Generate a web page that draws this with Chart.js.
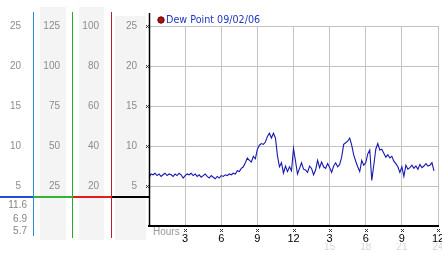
<!DOCTYPE html>
<html><head><meta charset="utf-8">
<script src="https://cdn.jsdelivr.net/npm/chart.js@4"></script>
<style>html,body{margin:0;padding:0;background:#fff;}canvas{display:block;}</style>
</head><body>
<canvas id="c" width="442" height="253"></canvas>
<script>
const seriesLabel = 'Dew Point 09/02/06';
// dew point readings every 10 minutes from 00:00
const dewPoint = [
6.0,6.5,6.4,6.6,6.3,6.5,6.2,6.4,6.6,6.3,
6.5,6.4,6.2,6.5,6.3,6.6,6.4,6.0,6.3,6.5,
6.4,6.6,6.3,6.5,6.2,6.4,6.1,6.3,6.5,6.2,
6.0,6.3,6.1,5.9,6.2,6.0,6.3,6.2,6.4,6.3,
6.5,6.4,6.6,6.5,6.9,6.8,7.2,7.4,7.9,8.5,
8.2,8.0,8.7,8.4,9.6,10.1,10.3,10.2,10.5,11.2,
11.6,11.0,11.6,11.0,8.8,7.4,7.9,6.6,7.5,6.8,
7.4,6.9,9.7,8.1,6.5,7.2,7.9,7.1,7.0,6.7,
7.5,7.2,6.4,7.0,8.2,7.3,8.0,7.4,7.2,7.8,
7.3,6.7,7.5,7.9,7.4,7.7,8.6,10.2,10.4,10.6,
11.0,10.1,8.9,8.1,7.4,6.8,8.2,7.6,7.9,9.0,
9.5,5.7,7.6,9.6,10.3,9.5,9.6,9.1,8.6,8.9,
8.5,8.7,8.1,7.8,7.4,6.7,7.4,6.2,7.6,7.1,
7.3,7.6,7.2,7.5,7.1,7.7,7.3,7.5,7.8,7.5,
7.6,7.9,6.9
];
const tickHours = [3, 6, 9, 12, 15, 18, 21, 24];
const tickLabels = ['3', '6', '9', '12', '3', '6', '9', '12'];
const tickLabels24 = ['', '', '', '', '15', '18', '21', '24'];
const summaryLabels = ['11.6', '6.9', '5.7'];
const axisTitle = 'Hours';

// time categories, 10 minute steps over 24 hours
const times = [];
for (let m = 0; m <= 1440; m += 10) {
  times.push(String(Math.floor(m / 60)).padStart(2, '0') + ':' + String(m % 60).padStart(2, '0'));
}
function tickIndex(v) { return tickHours.indexOf(v / 6); }

const FONT = 'Liberation Sans';
const gridCol = '#c4c4c4';
const clear = 'rgba(0,0,0,0)';

function sideAxis(weight, max, step, width) {
  return {
    position: 'left', weight: weight, min: 0, max: max,
    grid: { display: false, drawTicks: false },
    border: { display: false },
    ticks: { stepSize: step, padding: 12, color: '#8c8c8c', font: { family: FONT, size: 10 },
      callback: v => v === 0 ? '' : v },
    afterFit: s => { s.width = width; s.paddingTop = 0; s.paddingBottom = 0; }
  };
}

function marker(ctx, x, y) {
  ctx.fillStyle = '#333';
  ctx.fillRect(x - 1, y - 1, 1, 1); ctx.fillRect(x + 1, y - 1, 1, 1);
  ctx.fillRect(x, y, 1, 1);
  ctx.fillRect(x - 1, y + 1, 1, 1); ctx.fillRect(x + 1, y + 1, 1, 1);
}

const decor = {
  id: 'decor',
  beforeDraw(chart) {
    const c = chart.ctx, s = chart.scales;
    c.save();
    c.fillStyle = '#f4f4f4';
    c.fillRect(s.y2.left + 7, 7, (s.y2.right - 6) - (s.y2.left + 7), 233);
    c.fillRect(s.y3.left + 7, 7, (s.y3.right - 7) - (s.y3.left + 7), 233);
    c.fillRect(s.y.left + 4, 16, (s.y.right - 3) - (s.y.left + 4), 224);
    c.restore();
  },
  afterDraw(chart) {
    const c = chart.ctx, s = chart.scales, a = chart.chartArea;
    c.save();
    const vline = (x, y0, y1, col, w) => {
      c.strokeStyle = col; c.lineWidth = w; c.beginPath();
      c.moveTo(Math.round(x) + 0.5, y0); c.lineTo(Math.round(x) + 0.5, y1); c.stroke();
    };
    vline(s.y1.right, 12, 236, '#2a8fd0', 1);
    vline(s.y2.right, 12, 238, '#2aa82a', 1);
    vline(s.y3.right, 12, 238, '#b8202c', 1);
    vline(s.y.right, 13, a.bottom, '#000', 1.5);
    // horizontal divider
    const hy = 196;
    c.fillStyle = '#1f4fd6'; c.fillRect(0, hy, s.y1.right, 2);
    c.fillStyle = '#2fb52f'; c.fillRect(s.y1.right + 1, hy, s.y2.right - s.y1.right, 2);
    c.fillStyle = '#e41c1c'; c.fillRect(s.y2.right + 1, hy, s.y3.right - s.y2.right, 2);
    c.fillStyle = '#000'; c.fillRect(s.y3.right + 1, hy, s.y.right - s.y3.right, 2);
    // summary values
    c.fillStyle = '#858585'; c.font = '10px "' + FONT + '"';
    c.textAlign = 'right'; c.textBaseline = 'middle';
    const sy = [205, 219, 231.5];
    summaryLabels.forEach((t, i) => c.fillText(t, 27, sy[i]));
    // axis markers
    s.y.ticks.forEach(t => { if (t.value > 0) marker(c, Math.round(s.y.right) - 2, Math.round(s.y.getPixelForValue(t.value))); });
    s.x.ticks.forEach(t => { if (t.value > 0) marker(c, Math.round(s.x.getPixelForValue(t.value)), 230); });
    // Hours
    c.fillStyle = '#9a9a9a'; c.textAlign = 'left'; c.font = '10px "' + FONT + '"';
    c.fillText(axisTitle, a.left + 4, 232.5);
    // legend
    const lx = a.left + 12, ly = 20;
    c.beginPath(); c.arc(lx, ly, 3.2, 0, Math.PI * 2);
    c.fillStyle = '#b01010'; c.fill(); c.strokeStyle = '#5a0000'; c.lineWidth = 1; c.stroke();
    c.fillStyle = '#1f36c0'; c.font = '9.6px "DejaVu Sans"'; c.textAlign = 'left';
    c.fillText(chart.data.datasets[0].label, lx + 5, ly + 0.5);
    c.restore();
  }
};

new Chart(document.getElementById('c'), {
  type: 'line',
  data: {
    labels: times,
    datasets: [{
      label: seriesLabel, data: dewPoint, xAxisID: 'x', yAxisID: 'y',
      borderColor: '#1818b0', borderWidth: 1.1, pointRadius: 0, tension: 0, fill: false
    }]
  },
  options: {
    responsive: false, animation: false, devicePixelRatio: 1,
    layout: { padding: { left: 0, right: 4, top: 26, bottom: 0 } },
    plugins: { legend: { display: false }, tooltip: { enabled: false } },
    scales: {
      x: {
        type: 'category', position: 'bottom', weight: 0,
        grid: { color: c => (c.tick && c.tick.value > 0) ? gridCol : clear, drawTicks: false },
        border: { display: true, color: '#000', width: 2 },
        ticks: { autoSkip: false, maxRotation: 0, padding: 6, color: '#000', font: { family: FONT, size: 11 },
          callback: v => { const k = tickIndex(v); return k >= 0 ? tickLabels[k] : ''; } },
        afterBuildTicks: s => { s.ticks = s.ticks.filter(t => t.value % 18 === 0); },
        afterFit: s => { s.height = 17; s.paddingLeft = 0; s.paddingRight = 0; }
      },
      x2: {
        type: 'category', position: 'bottom', weight: 1,
        grid: { display: false, drawTicks: false }, border: { display: false },
        ticks: { autoSkip: false, maxRotation: 0, padding: -2, color: '#d6d6d6', font: { family: FONT, size: 10 },
          callback: v => { const k = tickIndex(v); return k >= 0 ? tickLabels24[k] : ''; } },
        afterBuildTicks: s => { s.ticks = s.ticks.filter(t => t.value % 18 === 0); },
        afterFit: s => { s.height = 10; s.paddingLeft = 0; s.paddingRight = 0; }
      },
      y: {
        position: 'left', weight: 0, min: 0, max: 25,
        grid: { color: c => (c.tick && c.tick.value > 0) ? gridCol : clear, drawTicks: false },
        border: { display: false },
        ticks: { stepSize: 5, padding: 12, color: '#8c8c8c', font: { family: FONT, size: 10 },
          callback: v => v === 0 ? '' : v },
        afterFit: s => { s.width = 38; s.paddingTop = 0; s.paddingBottom = 0; }
      },
      y3: sideAxis(1, 100, 20, 39),
      y2: sideAxis(2, 125, 25, 39),
      y1: sideAxis(3, 25, 5, 33)
    }
  },
  plugins: [decor]
});
</script>
</body></html>
